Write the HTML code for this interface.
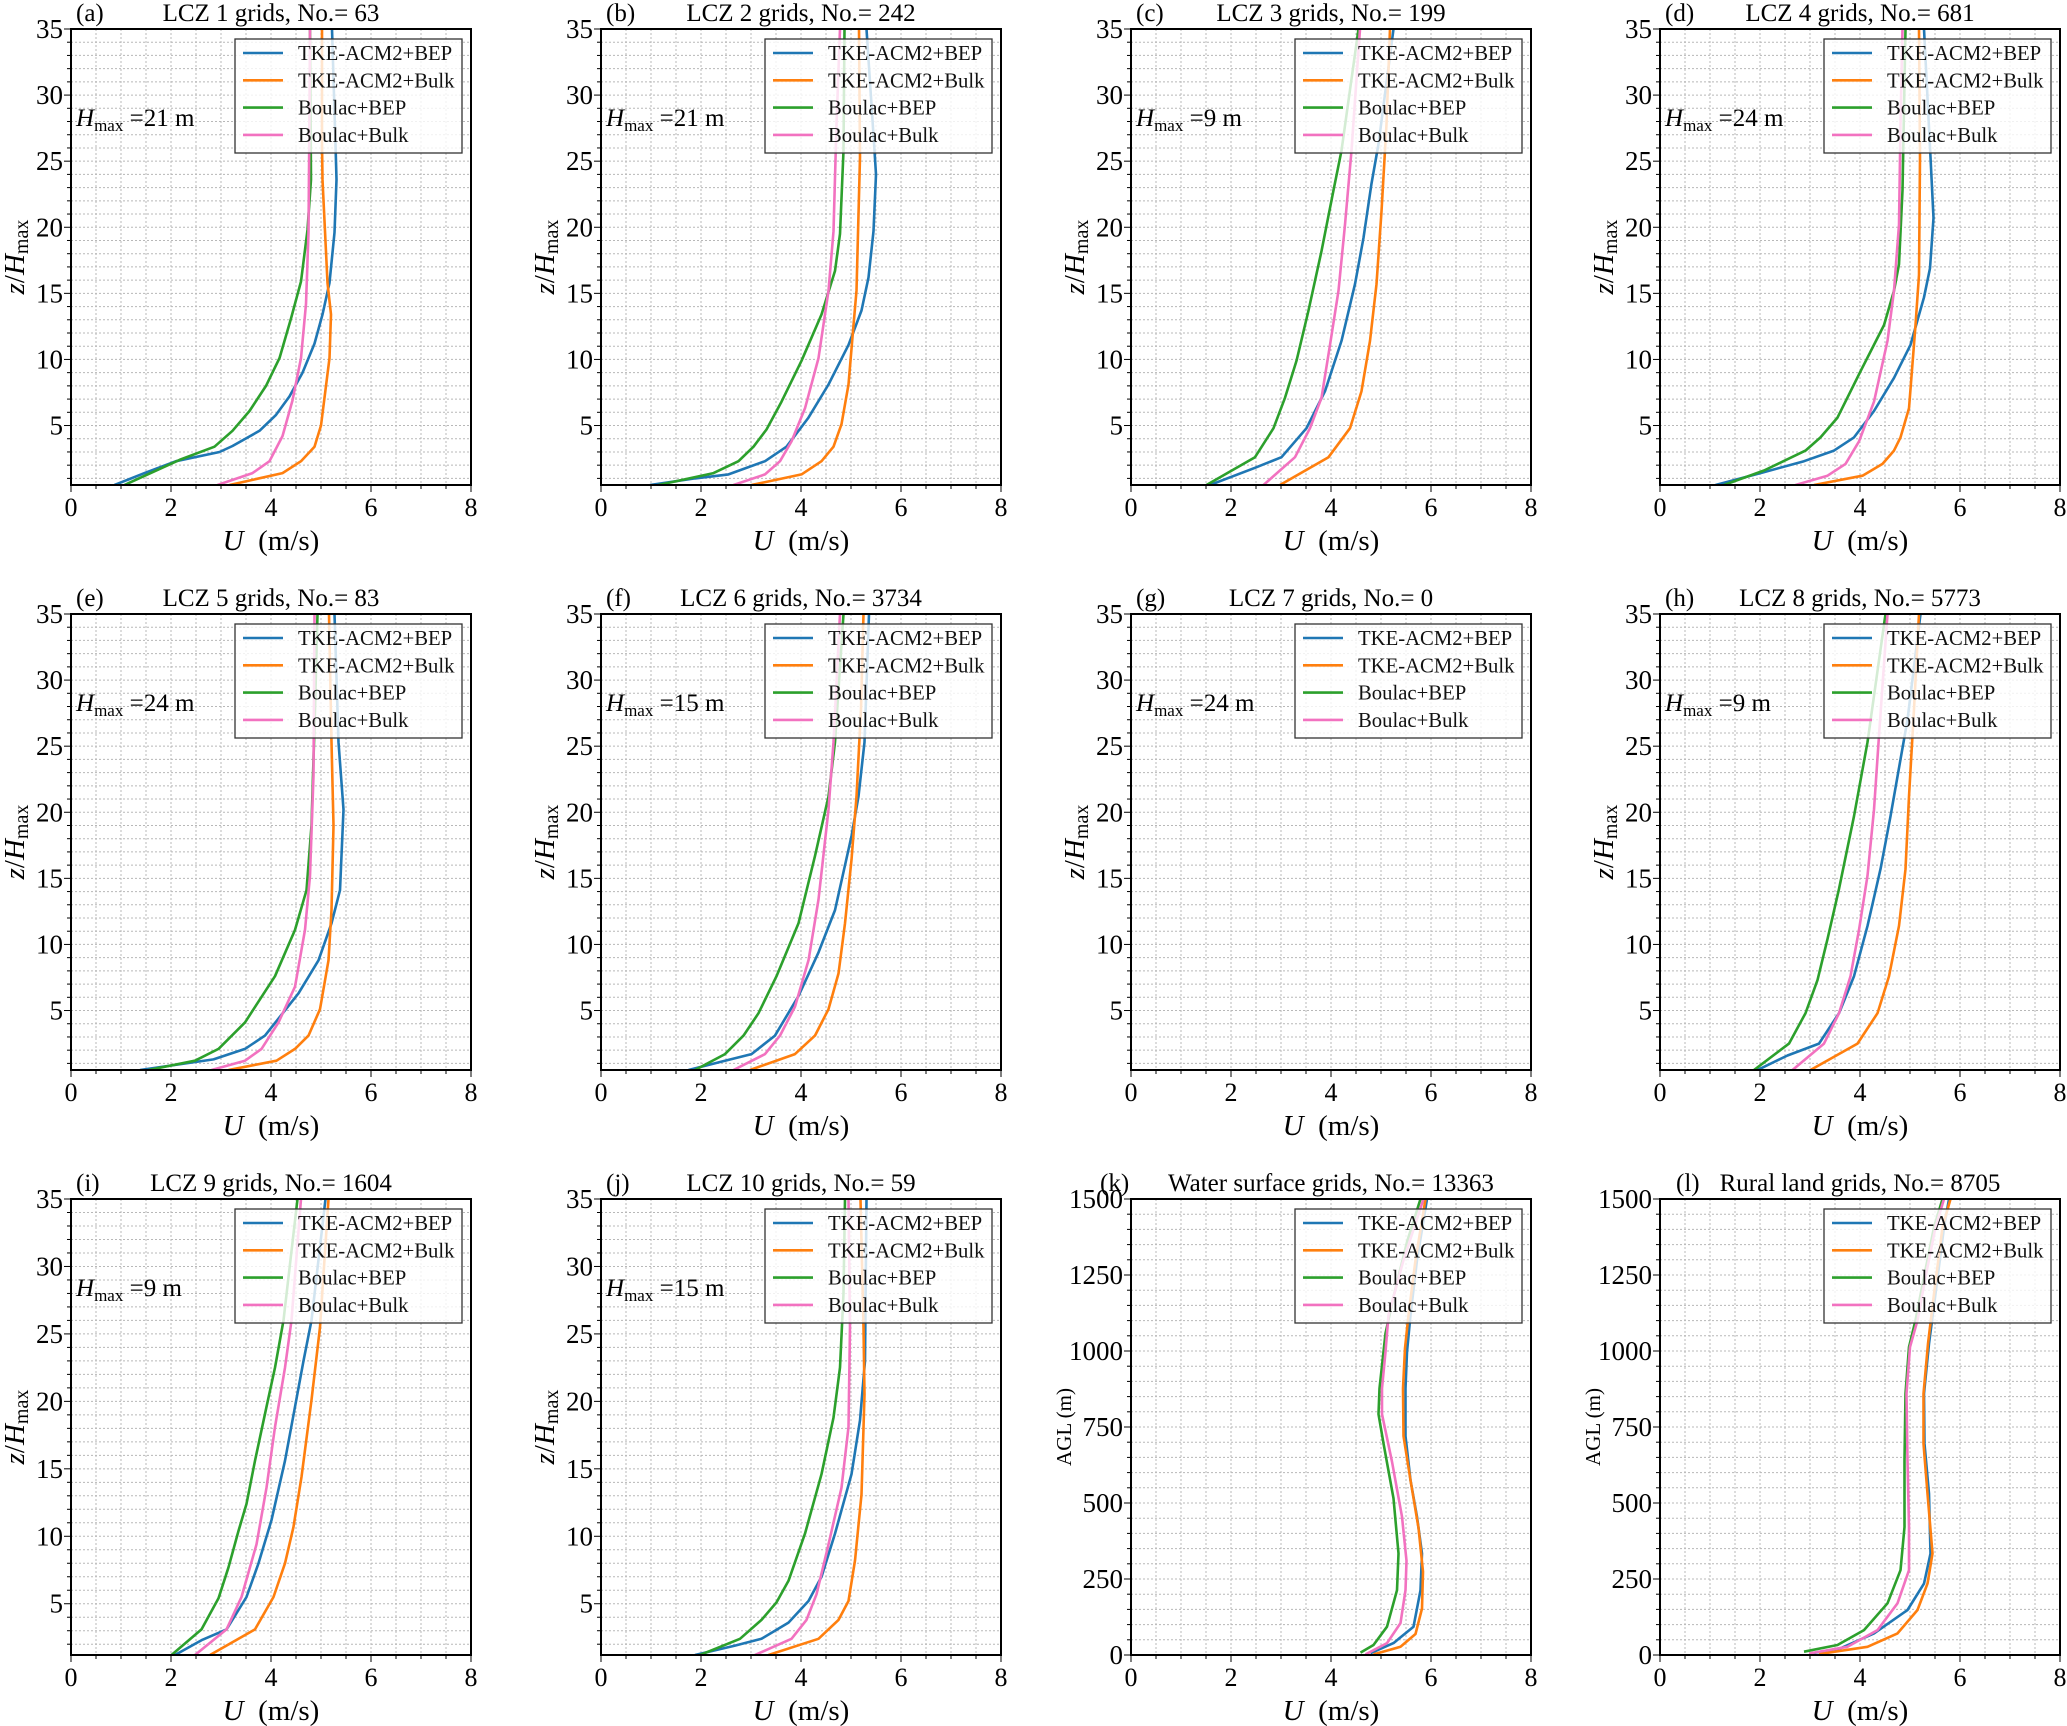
<!DOCTYPE html>
<html><head><meta charset="utf-8"><style>
html,body{margin:0;padding:0;background:#fff;}
svg{display:block;font-family:"Liberation Serif","DejaVu Serif",serif;}
</style></head><body>
<svg id="fig" width="2067" height="1726" viewBox="0 0 2067 1726" xmlns="http://www.w3.org/2000/svg"></svg>
<script>
// ---- Data (u in m/s, z in z/Hmax or AGL m) ----
const a_tb_u=[0.87,1.47,2.1,2.97,3.23,3.77,4.1,4.37,4.63,4.87,5.03,5.17,5.27,5.31,5.29,5.22];
const a_tb_z=[0.5,1.4,2.3,3.0,3.45,4.6,5.8,7.2,9.0,11.2,13.4,15.8,19.6,23.6,26.3,35];
const a_tk_u=[3.17,4.23,4.6,4.87,5.0,5.17,5.2,5.13,5.03,5.02,5.02];
const a_tk_z=[0.5,1.4,2.3,3.4,5.0,10.1,13.4,15.8,23.6,26.3,35];
const a_bb_u=[1.07,2.17,2.87,3.23,3.57,3.9,4.17,4.4,4.6,4.73,4.8,4.78];
const a_bb_z=[0.5,2.4,3.4,4.6,6.1,8.0,10.1,13.1,15.9,19.8,23.6,35];
const a_bk_u=[2.93,3.63,3.97,4.23,4.43,4.6,4.7,4.75,4.77,4.78];
const a_bk_z=[0.5,1.4,2.3,4.2,6.9,10.1,14.2,19.6,29,35];

const b_tb_u=[0.98,1.88,2.55,3.28,3.71,4.15,4.55,4.95,5.21,5.35,5.45,5.5,5.47,5.31];
const b_tb_z=[0.5,1.0,1.3,2.3,3.4,5.6,8.1,11.1,13.7,16.2,19.7,24.0,25.8,35];
const b_tk_u=[3.01,4.01,4.41,4.65,4.81,4.95,5.05,5.11,5.18,5.16];
const b_tk_z=[0.5,1.3,2.3,3.4,5.1,8.1,12.6,15.2,25.3,35];
const b_bb_u=[1.15,2.25,2.75,3.05,3.31,3.61,4.01,4.41,4.68,4.78,4.85,4.87];
const b_bb_z=[0.5,1.4,2.3,3.4,4.7,6.8,9.9,13.4,16.7,19.5,25.8,35];
const b_bk_u=[2.65,3.28,3.58,3.81,4.08,4.35,4.55,4.65,4.71,4.78];
const b_bk_z=[0.5,1.3,2.3,3.8,6.3,10.1,15.2,19.7,27.8,35];

const c_tb_u=[1.58,2.48,3.01,3.51,3.88,4.21,4.48,4.65,4.81,4.95,5.25];
const c_tb_z=[0.5,1.8,2.6,4.8,7.6,11.4,15.7,19.2,23.3,26.3,35];
const c_tk_u=[2.98,3.95,4.38,4.61,4.78,4.91,5.01,5.11,5.18];
const c_tk_z=[0.5,2.6,4.8,7.6,11.4,15.7,21.2,27.8,35];
const c_bb_u=[1.51,2.48,2.85,3.08,3.31,3.55,3.81,4.05,4.21,4.55];
const c_bb_z=[0.5,2.6,4.8,7.1,9.9,13.7,18.2,22.8,25.8,35];
const c_bk_u=[2.65,3.28,3.58,3.81,3.98,4.15,4.28,4.41,4.58];
const c_bk_z=[0.5,2.6,4.8,7.1,11.1,15.2,20.2,25.8,35];

const d_tb_u=[1.11,2.01,2.88,3.48,3.88,4.28,4.68,5.01,5.28,5.4,5.47,5.41,5.28];
const d_tb_z=[0.5,1.4,2.3,3.1,4.1,6.1,8.6,11.1,14.7,16.9,20.7,25.3,35];
const d_tk_u=[3.08,4.05,4.45,4.68,4.81,4.98,5.11,5.18,5.2,5.18];
const d_tk_z=[0.5,1.2,2.1,3.1,4.1,6.3,12.6,16.4,25.3,35];
const d_bb_u=[1.28,2.08,2.91,3.21,3.55,4.01,4.48,4.68,4.78,4.85,4.91];
const d_bb_z=[0.5,1.6,3.1,4.1,5.6,9.1,12.6,15.2,17.2,22.8,35];
const d_bk_u=[2.71,3.35,3.71,3.98,4.28,4.55,4.68,4.78,4.81,4.85];
const d_bk_z=[0.5,1.2,2.1,3.8,6.8,11.4,15.2,20.2,27.8,35];

const e_tb_u=[1.38,2.85,3.48,3.88,4.55,4.95,5.21,5.38,5.45,5.35,5.27];
const e_tb_z=[0.5,1.3,2.1,3.1,6.3,8.8,11.6,14.1,20.2,25.3,35];
const e_tk_u=[3.15,4.11,4.48,4.75,4.98,5.15,5.21,5.25,5.21,5.16];
const e_tk_z=[0.5,1.2,2.1,3.1,5.1,8.8,12.6,19.0,25.3,35];
const e_bb_u=[1.55,2.48,2.95,3.48,4.08,4.48,4.71,4.81,4.88,4.93];
const e_bb_z=[0.5,1.2,2.1,4.1,7.6,11.1,14.1,19.0,27.8,35];
const e_bk_u=[2.81,3.48,3.81,4.15,4.48,4.68,4.78,4.85,4.87];
const e_bk_z=[0.5,1.2,2.1,4.1,6.8,11.1,15.2,22.8,35];

const f_tb_u=[1.75,2.48,3.01,3.48,3.95,4.35,4.68,5.01,5.15,5.27,5.36];
const f_tb_z=[0.5,1.2,1.7,3.1,6.1,9.4,12.6,18.2,21.2,25.3,35];
const f_tk_u=[2.98,3.88,4.28,4.55,4.75,4.88,5.01,5.11,5.2,5.25];
const f_tk_z=[0.5,1.7,3.1,5.1,7.8,11.6,16.4,21.2,27.8,35];
const f_bb_u=[1.88,2.48,2.85,3.15,3.51,3.95,4.28,4.55,4.68,4.85];
const f_bb_z=[0.5,1.7,3.1,4.8,7.6,11.6,16.7,21.2,25.3,35];
const f_bk_u=[2.65,3.28,3.58,3.88,4.15,4.35,4.55,4.65,4.78];
const f_bk_z=[0.5,1.7,3.1,5.3,8.8,13.4,20.2,25.3,35];

const h_tb_u=[1.95,2.55,3.18,3.58,3.88,4.15,4.41,4.61,4.81,4.95,5.21];
const h_tb_z=[0.5,1.6,2.5,4.8,7.6,11.4,15.7,19.7,24.0,27.0,35];
const h_tk_u=[3.01,3.95,4.35,4.58,4.78,4.91,4.98,5.08,5.18];
const h_tk_z=[0.5,2.5,4.8,7.6,11.4,15.7,21.2,27.8,35];
const h_bb_u=[1.88,2.58,2.91,3.15,3.35,3.58,3.88,4.15,4.51];
const h_bb_z=[0.5,2.5,4.8,7.3,10.4,14.2,19.7,25.3,35];
const h_bk_u=[2.65,3.28,3.58,3.81,3.98,4.15,4.28,4.38,4.55];
const h_bk_z=[0.5,2.5,4.8,7.6,11.1,15.2,20.2,25.8,35];

const i_tb_u=[2.08,2.61,3.11,3.51,3.75,4.01,4.28,4.48,4.65,4.81,5.09];
const i_tb_z=[1.2,2.3,3.1,5.5,8.0,11.2,15.6,19.6,23.0,26.0,35];
const i_tk_u=[2.78,3.68,4.05,4.28,4.45,4.61,4.81,4.98,5.15];
const i_tk_z=[1.2,3.1,5.5,8.0,10.7,14.4,20.1,25.5,35];
const i_bb_u=[2.01,2.61,2.95,3.15,3.35,3.51,3.68,3.91,4.08,4.25,4.53];
const i_bb_z=[1.2,3.1,5.4,7.7,10.4,12.4,15.6,19.6,22.5,26.0,35];
const i_bk_u=[2.48,3.11,3.41,3.71,3.91,4.08,4.28,4.41,4.6];
const i_bk_z=[1.2,3.1,5.5,9.4,13.6,18.1,22.5,26.0,35];

const j_tb_u=[1.88,2.68,3.21,3.75,4.15,4.41,4.68,5.01,5.18,5.28,5.31];
const j_tb_z=[1.2,1.9,2.4,3.6,5.2,7.0,10.2,14.6,18.6,23.0,35];
const j_tk_u=[3.35,4.35,4.75,4.95,5.08,5.21,5.27,5.25,5.19];
const j_tk_z=[1.2,2.4,3.8,5.2,8.2,13.1,20.5,25.5,35];
const j_bb_u=[1.98,2.78,3.21,3.51,3.75,4.08,4.41,4.65,4.78,4.85,4.88];
const j_bb_z=[1.2,2.4,3.8,5.1,6.7,10.2,14.6,18.8,22.5,28.0,35];
const j_bk_u=[3.08,3.81,4.11,4.31,4.55,4.81,4.95,4.98,4.95];
const j_bk_z=[1.2,2.4,3.8,5.7,9.4,13.6,18.1,25.5,35];

const k_tb_u=[4.79,5.25,5.65,5.79,5.82,5.72,5.59,5.49,5.49,5.52,5.59,5.72,5.92];
const k_tb_z=[6,39,93,213,334,455,575,720,877,997,1118,1299,1500];
const k_tk_u=[4.85,5.39,5.69,5.82,5.84,5.75,5.59,5.45,5.44,5.48,5.55,5.69,5.89];
const k_tk_z=[2,27,69,153,274,418,575,720,877,1009,1118,1299,1500];
const k_bb_u=[4.59,4.85,5.12,5.32,5.35,5.25,5.05,4.95,4.97,5.09,5.25,5.52,5.79];
const k_bb_z=[8,33,93,213,334,515,696,792,877,1058,1178,1359,1500];
const k_bk_u=[4.69,5.12,5.39,5.49,5.51,5.42,5.22,5.02,5.02,5.09,5.15,5.45,5.85];
const k_bk_z=[2,39,105,213,310,455,636,792,877,997,1118,1299,1500];

const l_tb_u=[3.01,3.61,4.28,4.95,5.28,5.41,5.38,5.29,5.28,5.38,5.51,5.68,5.78];
const l_tb_z=[5,22,71,148,235,334,531,695,860,1024,1188,1407,1500];
const l_tk_u=[3.18,4.15,4.75,5.15,5.35,5.45,5.35,5.27,5.27,5.36,5.48,5.65,5.81];
const l_tk_z=[3,27,71,148,235,334,531,695,860,1024,1188,1407,1500];
const l_bb_u=[2.88,3.55,4.08,4.55,4.81,4.89,4.89,4.91,4.98,5.11,5.28,5.48,5.65];
const l_bb_z=[11,33,82,170,279,421,640,860,1013,1101,1243,1407,1500];
const l_bk_u=[2.98,3.75,4.35,4.75,4.98,4.98,4.95,4.93,5.0,5.15,5.31,5.51,5.68];
const l_bk_z=[5,27,82,170,279,421,640,860,1013,1101,1243,1407,1500];

const seriesNames=["TKE-ACM2+BEP","TKE-ACM2+Bulk","Boulac+BEP","Boulac+Bulk"];
const seriesColors=["#1f77b4","#ff7f0e","#2ca02c","#f272c0"];
const xTicks=[0,2,4,6,8];
const zTicks=[5,10,15,20,25,30,35];
const aglTicks=[0,250,500,750,1000,1250,1500];
const panelTitles=["LCZ 1 grids, No.= 63","LCZ 2 grids, No.= 242","LCZ 3 grids, No.= 199","LCZ 4 grids, No.= 681","LCZ 5 grids, No.= 83","LCZ 6 grids, No.= 3734","LCZ 7 grids, No.= 0","LCZ 8 grids, No.= 5773","LCZ 9 grids, No.= 1604","LCZ 10 grids, No.= 59","Water surface grids, No.= 13363","Rural land grids, No.= 8705"];
const panelLetters=["a","b","c","d","e","f","g","h","i","j","k","l"];
const hmaxValues=[21,21,9,24,24,15,24,9,9,15,null,null];

const panelSeries=[
 [[a_tb_u,a_tb_z],[a_tk_u,a_tk_z],[a_bb_u,a_bb_z],[a_bk_u,a_bk_z]],
 [[b_tb_u,b_tb_z],[b_tk_u,b_tk_z],[b_bb_u,b_bb_z],[b_bk_u,b_bk_z]],
 [[c_tb_u,c_tb_z],[c_tk_u,c_tk_z],[c_bb_u,c_bb_z],[c_bk_u,c_bk_z]],
 [[d_tb_u,d_tb_z],[d_tk_u,d_tk_z],[d_bb_u,d_bb_z],[d_bk_u,d_bk_z]],
 [[e_tb_u,e_tb_z],[e_tk_u,e_tk_z],[e_bb_u,e_bb_z],[e_bk_u,e_bk_z]],
 [[f_tb_u,f_tb_z],[f_tk_u,f_tk_z],[f_bb_u,f_bb_z],[f_bk_u,f_bk_z]],
 [],
 [[h_tb_u,h_tb_z],[h_tk_u,h_tk_z],[h_bb_u,h_bb_z],[h_bk_u,h_bk_z]],
 [[i_tb_u,i_tb_z],[i_tk_u,i_tk_z],[i_bb_u,i_bb_z],[i_bk_u,i_bk_z]],
 [[j_tb_u,j_tb_z],[j_tk_u,j_tk_z],[j_bb_u,j_bb_z],[j_bk_u,j_bk_z]],
 [[k_tb_u,k_tb_z],[k_tk_u,k_tk_z],[k_bb_u,k_bb_z],[k_bk_u,k_bk_z]],
 [[l_tb_u,l_tb_z],[l_tk_u,l_tk_z],[l_bb_u,l_bb_z],[l_bk_u,l_bk_z]]
];

const NS="http://www.w3.org/2000/svg";
const svg=document.getElementById('fig');
function mk(tag,attrs,parent){const e=document.createElementNS(NS,tag);for(const k in attrs)e.setAttribute(k,attrs[k]);(parent||svg).appendChild(e);return e;}

const colX=[71,601,1131,1660], rowY=[29,614,1199];
const PW=400, PH=456;

panelLetters.forEach((L,p)=>{
  const col=p%4,row=Math.floor(p/4);
  const X0=colX[col],Y0=rowY[row];
  const agl=(p>=10);
  const yMin=agl?0:(row===2?1.2:0.5), yMax=agl?1500:35;
  const sx=u=>X0+u/8*PW;
  const sy=z=>Y0+PH-(z-yMin)/(yMax-yMin)*PH;
  const g=mk('g',{});
  
  
  const grid=mk('g',{stroke:'#b8b8b8','stroke-width':1,'stroke-dasharray':'2,2'},g);
  
  
  for(let u=0.5;u<8;u+=0.5){mk('line',{x1:sx(u),x2:sx(u),y1:Y0,y2:Y0+PH},grid);}
  const step=agl?50:1;
  for(let z=Math.ceil(yMin/step)*step;z<yMax;z+=step){ if(z<=yMin)continue; mk('line',{x1:X0,x2:X0+PW,y1:sy(z),y2:sy(z)},grid);}
  const tk=mk('g',{stroke:'#000','stroke-width':1},g);
  for(let u=0;u<=8;u+=0.5){const maj=(u%2===0);mk('line',{x1:sx(u),x2:sx(u),y1:Y0+PH,y2:Y0+PH+(maj?7:4)},tk);}
  for(let z=Math.ceil(yMin/step)*step;z<=yMax;z+=step){ if(z<yMin)continue; const maj=agl?(z%250===0):(z%5===0); mk('line',{x1:X0,x2:X0-(maj?7:4),y1:sy(z),y2:sy(z)},tk);}
  const clipId='clip'+L;
  const cp=mk('clipPath',{id:clipId},g); mk('rect',{x:X0,y:Y0,width:PW,height:PH},cp);
  const lines=mk('g',{'clip-path':'url(#'+clipId+')'},g);
  panelSeries[p].forEach((s,si)=>{
    const d=s[0].map((u,i)=>(i?'L':'M')+sx(u).toFixed(1)+','+sy(s[1][i]).toFixed(1)).join('');
    const path=mk('path',{d:d,fill:'none',stroke:seriesColors[si],'stroke-width':2.6,'stroke-linejoin':'round'},lines);
    
    
  });
  const lg=mk('g',{},g);
  
  
  mk('rect',{x:X0+164,y:Y0+10,width:227,height:114,fill:'#fff','fill-opacity':0.8,stroke:'#333','stroke-width':1.3},lg);
  seriesNames.forEach((n,si)=>{
    const yy=Y0+24+si*27.3;
    mk('line',{x1:X0+172,x2:X0+212,y1:yy,y2:yy,stroke:seriesColors[si],'stroke-width':2.6},lg);
    const t=mk('text',{x:X0+227,y:yy+7,'font-size':20.7,fill:'#111'},lg);t.textContent=n;
    
    
  });
  mk('rect',{x:X0,y:Y0,width:PW,height:PH,fill:'none',stroke:'#000','stroke-width':2},g);
  xTicks.forEach(v=>{const t=mk('text',{x:sx(v),y:Y0+PH+31,'font-size':26,'text-anchor':'middle'},g);t.textContent=v;
    
    });
  (agl?aglTicks:zTicks).forEach(v=>{const t=mk('text',{x:X0-8,y:sy(v)+9,'font-size':27,'text-anchor':'end'},g);t.textContent=v;
    
    });
  const xl=mk('text',{x:X0+PW/2,y:Y0+PH+65,'font-size':29,'text-anchor':'middle'},g);
  
  
  xl.innerHTML='<tspan font-style="italic">U</tspan>&#160;&#160;(m/s)';
  const cy=Y0+PH/2;
  if(agl){
    const yl=mk('text',{x:0,y:0,'font-size':21,'text-anchor':'middle',transform:'translate('+(X0-60)+','+cy+') rotate(-90)'},g);
    yl.textContent='AGL (m)';
    
    
  } else {
    const yl=mk('text',{x:0,y:0,'font-size':29,'text-anchor':'middle',transform:'translate('+(X0-47)+','+cy+') rotate(-90)'},g);
    yl.innerHTML='<tspan font-style="italic">z</tspan>/<tspan font-style="italic">H</tspan><tspan font-size="20" dy="4">max</tspan>';
    
    
  }
  const tt=mk('text',{x:X0+PW/2,y:Y0-8,'font-size':25,'text-anchor':'middle'},g);
  tt.textContent=panelTitles[p];
  
  
  const lx=(p===10)?X0-31:(p===11?X0+16:X0+5);
  const lt=mk('text',{x:lx,y:Y0-8,'font-size':25},g);
  lt.textContent='('+L+')';
  
  
  if(hmaxValues[p]!==null){
    const ht=mk('text',{x:X0+5,y:Y0+97,'font-size':25},g);
    ht.innerHTML='<tspan font-style="italic">H</tspan><tspan font-size="17" dy="5">max</tspan><tspan dy="-5">&#160;=' + hmaxValues[p] + ' m</tspan>';
    
    
  }
});
</script>
</body></html>
